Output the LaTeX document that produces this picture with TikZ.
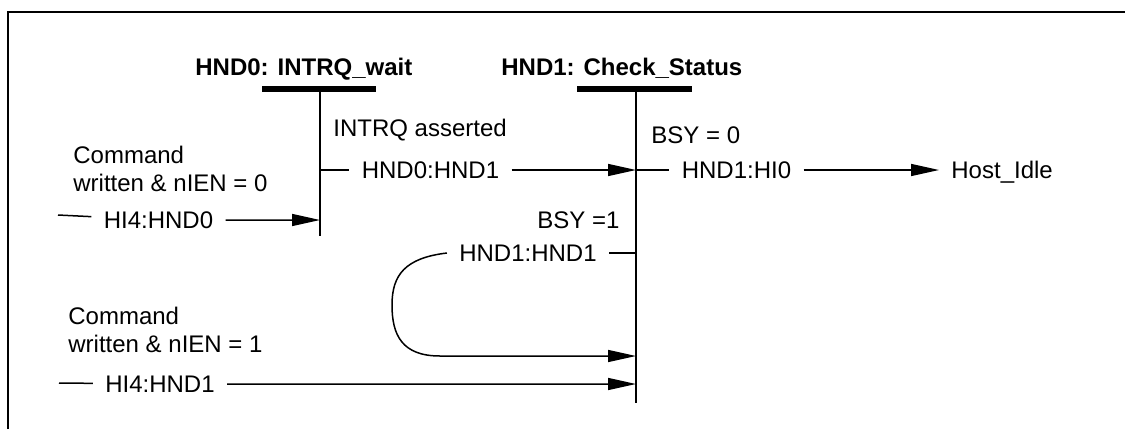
\documentclass[tikz,border=0pt]{standalone}
\usepackage{fontspec}
\setmainfont{Liberation Sans}
\usetikzlibrary{arrows.meta}
\begin{document}
\begin{tikzpicture}[x=0.5pt,y=-0.5pt,font=\fontsize{12}{14}\selectfont,
  txt/.style={anchor=base west,inner sep=0pt},
  ttl/.style={anchor=base west,inner sep=0pt,font=\fontsize{12}{14}\selectfont\bfseries},
  lbl/.style={inner xsep=6pt,inner ysep=0pt,text depth=0pt},
  bar/.style={line width=2.6pt},
  life/.style={line width=1pt},
  wire/.style={line width=0.75pt},
  arr/.style={wire,-{Triangle[length=14pt,width=6pt]}}]
\useasboundingbox (0,0) rectangle (1125,429);
\draw[line width=0.9pt] (8,429) -- (8,12) -- (1125,12);
% states
\node[ttl] (t0) at (195,75.5) {HND0: INTRQ\_wait};
\node[ttl] (t1) at (501,75.5) {HND1: Check\_Status};
\draw[bar] (262,89) -- (376,89);
\draw[bar] (577,89) -- (692,89);
\coordinate (s0top) at (320,91);
\coordinate (s0bot) at (320,236);
\coordinate (s1top) at (636,91);
\coordinate (s1bot) at (636,403);
\coordinate (s1loop) at (636,356);
\draw[life] (s0top) -- (s0bot);
\draw[life] (s1top) -- (s1bot);
% conditions
\node[txt] (c0a) at (73,163.5) {Command};
\node[txt] (c0b) at (73,191.5) {written \& nIEN = 0};
\node[txt] (intrq) at (333,136.5) {INTRQ asserted};
\node[txt] (bsy0) at (651,143.5) {BSY = 0};
\node[txt] (bsy1) at (537,228.5) {BSY =1};
\node[txt] (c1a) at (68,324.5) {Command};
\node[txt] (c1b) at (68,352.5) {written \& nIEN = 1};
% transitions
\node[lbl] (hi4a) at (158.5,220) {HI4:HND0};
\node[lbl] (h01) at (430.5,170) {HND0:HND1};
\node[lbl] (h1i0) at (736.5,170) {HND1:HI0};
\node[lbl] (h11) at (528,253) {HND1:HND1};
\node[lbl] (hi4b) at (160,384) {HI4:HND1};
\node[lbl,anchor=west] (idle) at (939,170) {Host\_Idle};
\coordinate (a0) at (58,215);
\coordinate (a1) at (59,383);
\draw[arr] (a0) -- (hi4a) -- (hi4a -| s0top);
\draw[arr] (h01 -| s0top) -- (h01) -- (h01 -| s1top);
\draw[arr] (h1i0 -| s1top) -- (h1i0) -- (idle);
\draw[wire] (h11 -| s1top) -- (h11);
\draw[arr] (h11.west) .. controls (405,258) and (392,275) .. (392,305)
  .. controls (392,335) and (402,356) .. (440,356) -- (s1loop);
\draw[arr] (a1) -- (hi4b) -- (hi4b -| s1top);
\end{tikzpicture}
\end{document}
